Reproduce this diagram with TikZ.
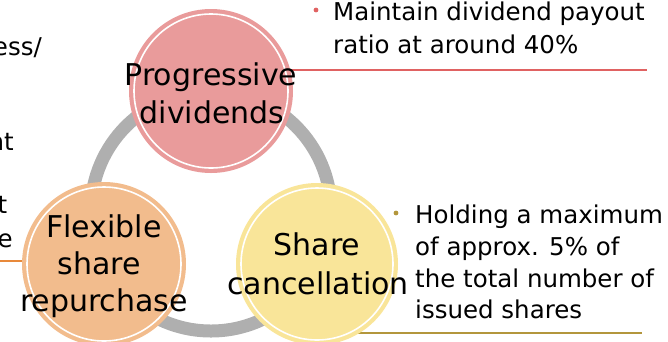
\documentclass[tikz,border=0pt]{standalone}
\usepackage{fontspec}
\setmainfont{DejaVu Sans}
\definecolor{ringgray}{HTML}{AFAFAF}
\definecolor{pinkfill}{HTML}{E99B9B}
\definecolor{orangefill}{HTML}{F2BC8D}
\definecolor{yellowfill}{HTML}{F9E599}
\definecolor{redline}{HTML}{E06262}
\definecolor{goldline}{HTML}{B3963C}
\definecolor{orangeline}{HTML}{E8893A}
\begin{document}
\begin{tikzpicture}[x=1pt,y=-1pt]
\tikzset{
  body/.style={font=\fontsize{24.5}{33}\selectfont, inner sep=0pt, anchor=base west},
  bodyr/.style={font=\fontsize{24.5}{33}\selectfont, inner sep=0pt, anchor=base east},
  ctext/.style={font=\fontsize{30}{38}\selectfont, inner sep=0pt, anchor=base},
  bigdisc/.style={circle, minimum size=164pt, inner sep=0pt},
  innerring/.style={draw=white, line width=1.6pt},
  accent/.style={line width=1.6pt},
}
\useasboundingbox (0,0) rectangle (668,341);
\clip (0,0) rectangle (668,341);
% gray ring
\coordinate (ringc) at (211,211);
\draw[ringgray, line width=13pt] (ringc) circle (120pt);
% accent lines
\coordinate (redL) at (211,70);
\coordinate (redR) at (647,70);
\coordinate (goldL) at (318,333);
\coordinate (goldR) at (642,333);
\coordinate (orL) at (0,261);
\coordinate (orR) at (104,261);
\draw[accent, redline] (redL) -- (redR);
\draw[accent, goldline] (goldL) -- (goldR);
\draw[accent, orangeline] (orL) -- (orR);
% circles
\node[bigdisc, fill=pinkfill] (prog) at (211,91) {};
\draw[innerring] (prog.center) circle (77pt);
\node[bigdisc, fill=orangefill] (flex) at (104,264) {};
\draw[innerring] (flex.center) circle (77pt);
\node[bigdisc, fill=yellowfill, minimum size=162pt] (canc) at (317,264) {};
\draw[innerring] (canc.center) circle (76pt);
% circle labels
\node[ctext] (prog1) at (211,85) {Progressive};
\node[ctext] (prog2) at (212,123) {dividends};
\node[ctext] (flex1) at (104,237) {Flexible};
\node[ctext] (flex2) at (99,274) {share};
\node[ctext] (flex3) at (104,311) {repurchase};
\node[ctext] (canc1) at (317,255) {Share};
\node[ctext] (canc2) at (318,294) {cancellation};
% right texts
\fill[redline] (316,10) circle (2.4pt);
\node[body] (t1) at (333,20) {Maintain dividend payout};
\node[body] (t2) at (333,53) {ratio at around 40\%};
\fill[goldline] (396,213) circle (2.4pt);
\node[body] (y1) at (415,223) {Holding a maximum};
\node[body] (y2) at (415,255) {of approx. 5\% of};
\node[body] (y3) at (415,287) {the total number of};
\node[body] (y4) at (415,318) {issued shares};
% left cut-off texts
\node[bodyr] (l1) at (42,55) {ess/};
\node[bodyr] (l2) at (14,150) {nt};
\node[bodyr] (l3) at (7.5,213) {t};
\node[bodyr] (l4) at (13,247) {e};
\end{tikzpicture}
\end{document}
